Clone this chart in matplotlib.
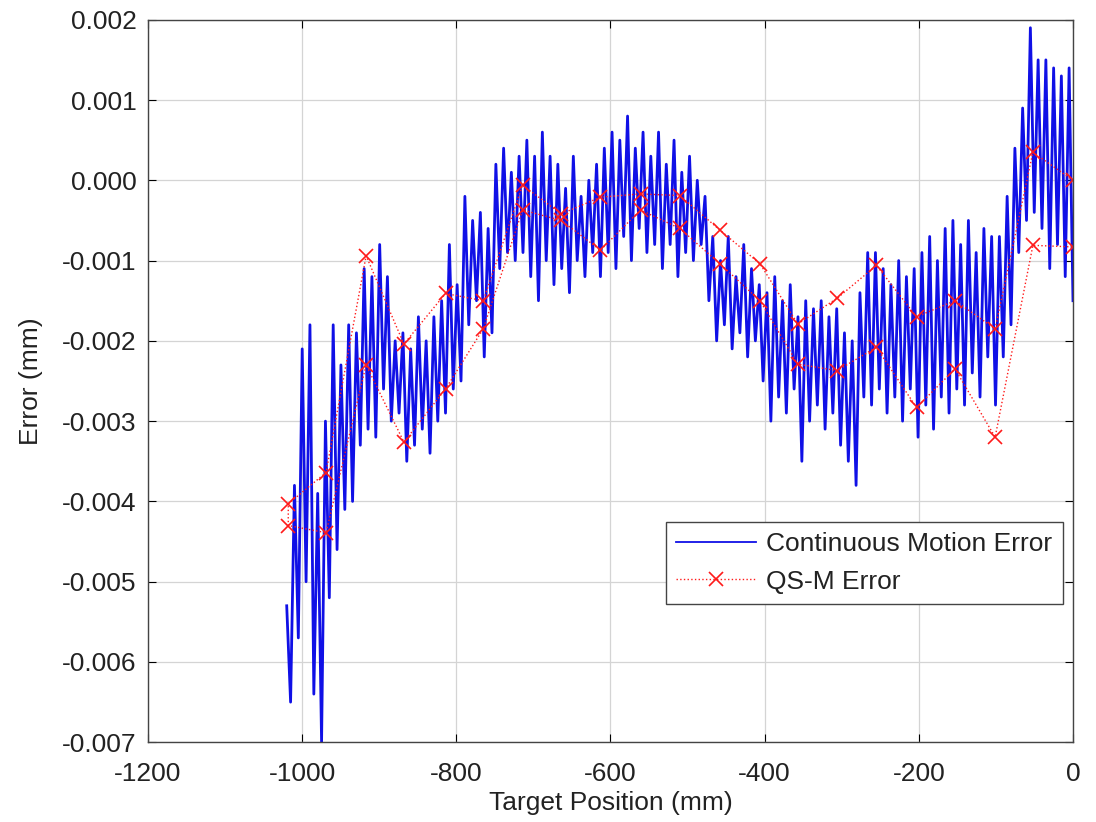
import numpy as np
import matplotlib.pyplot as plt
from matplotlib.ticker import FormatStrFormatter

plt.rcParams.update({
    'font.family': ['Liberation Sans', 'DejaVu Sans'],
    'font.size': 19,
    'axes.unicode_minus': False,
})

# Continuous motion error: one peak and one trough per ~10 mm of travel,
# from -1020 mm up to 0 mm (values in mm)
cm_peaks = [
    -0.0053, -0.0038, -0.0021, -0.0018, -0.0039, -0.0030, -0.0018, -0.0023, -0.0018, -0.0019,
    -0.0011, -0.0012, -0.0008, -0.0012, -0.0020, -0.0019, -0.0021, -0.0017, -0.0020, -0.0017,
    -0.0015, -0.0008, -0.0013, -0.0002, -0.0005, -0.0004, -0.0006, 0.0002, 0.0004, 0.0001,
    0.0003, 0.0005, 0.0003, 0.0006, 0.0003, 0.0002, -0.0001, 0.0003, -0.0002, 0.0000,
    0.0002, 0.0004, 0.0006, 0.0005, 0.0008, 0.0004, 0.0006, 0.0003, 0.0006, 0.0002,
    0.0005, 0.0001, 0.0003, 0.0000, -0.0002, -0.0007, -0.0010, -0.0007, -0.0012, -0.0008,
    -0.0011, -0.0013, -0.0014, -0.0012, -0.0015, -0.0013, -0.0017, -0.0015, -0.0016, -0.0015,
    -0.0017, -0.0016, -0.0019, -0.0020, -0.0014, -0.0009, -0.0009, -0.0011, -0.0013, -0.0010,
    -0.0012, -0.0011, -0.0009, -0.0007, -0.0010, -0.0006, -0.0005, -0.0008, -0.0005, -0.0009,
    -0.0006, -0.0007, -0.0007, -0.0002, 0.0004, 0.0009, 0.0019, 0.0015, 0.0015, 0.0014,
    0.0013, 0.0014,
]
cm_troughs = [
    -0.0065, -0.0057, -0.0050, -0.0064, -0.0070, -0.0052, -0.0046, -0.0041, -0.0040, -0.0033,
    -0.0031, -0.0032, -0.0026, -0.0030, -0.0029, -0.0035, -0.0033, -0.0031, -0.0034, -0.0030,
    -0.0029, -0.0026, -0.0025, -0.0018, -0.0015, -0.0022, -0.0019, -0.0011, -0.0009, -0.0010,
    -0.0009, -0.0012, -0.0015, -0.0010, -0.0013, -0.0011, -0.0014, -0.0010, -0.0012, -0.0009,
    -0.0012, -0.0009, -0.0011, -0.0007, -0.0010, -0.0006, -0.0009, -0.0008, -0.0011, -0.0008,
    -0.0012, -0.0009, -0.0010, -0.0008, -0.0015, -0.0020, -0.0018, -0.0021, -0.0019, -0.0022,
    -0.0020, -0.0025, -0.0030, -0.0027, -0.0029, -0.0026, -0.0035, -0.0030, -0.0028, -0.0031,
    -0.0029, -0.0033, -0.0035, -0.0038, -0.0027, -0.0028, -0.0026, -0.0029, -0.0027, -0.0030,
    -0.0026, -0.0032, -0.0028, -0.0031, -0.0027, -0.0029, -0.0026, -0.0028, -0.0024, -0.0027,
    -0.0022, -0.0028, -0.0022, -0.0018, -0.0009, -0.0005, -0.0004, -0.0006, -0.0011, -0.0008,
    -0.0012, -0.0015,
]
cm_start, cm_end = -1020, 0

# Quasi-static measurements: outbound run from 0 to -1018 mm, then the return run
qs_pos_out = [0, -52, -101, -153, -203, -255, -306, -357, -406, -458, -510,
              -561, -613, -664, -714, -765, -814, -868, -917, -969, -1018]
qs_err_out = [0.0, 0.00035, -0.00185, -0.0015, -0.0017, -0.00106, -0.00147, -0.00179,
              -0.00104, -0.00062, -0.00019, -0.00017, -0.00021, -0.00042, -0.00006,
              -0.0015, -0.00141, -0.00204, -0.00094, -0.00364, -0.00403]
qs_pos_back = [-1018, -969, -917, -868, -814, -765, -714, -664, -613, -561, -510,
               -458, -406, -357, -306, -255, -203, -153, -101, -52, 0]
qs_err_back = [-0.0043, -0.00439, -0.0023, -0.00326, -0.0026, -0.00185, -0.00037,
               -0.0005, -0.00087, -0.00037, -0.0006, -0.00104, -0.0015, -0.00229,
               -0.00237, -0.00208, -0.00283, -0.00235, -0.0032, -0.00081, -0.00083]

# interleave peaks and troughs into one trace
cm_err = np.column_stack([cm_peaks, cm_troughs]).ravel()
cm_pos = np.linspace(cm_start, cm_end, len(cm_err))

qs_pos = qs_pos_out + qs_pos_back
qs_err = qs_err_out + qs_err_back

fig = plt.figure(figsize=(10.96, 8.22), dpi=100)
ax = fig.add_axes([0.135, 0.097, 0.844, 0.879])

ax.plot(cm_pos, cm_err, color='#1010e6', lw=2.0, solid_joinstyle='round',
        label='Continuous Motion Error')
ax.plot(qs_pos, qs_err, color='#ff1a1a', ls=':', lw=1.0, marker='x',
        markersize=10, markeredgewidth=1.2, label='QS-M Error')

ax.set_xlim(-1200, 0)
ax.set_ylim(-0.007, 0.002)
ax.set_xticks(np.arange(-1200, 1, 200))
ax.set_yticks(np.arange(-0.007, 0.0021, 0.001))
ax.yaxis.set_major_formatter(FormatStrFormatter('%.3f'))

ax.grid(True, color='#d4d4d4', lw=0.9)
ax.set_axisbelow(True)
ax.tick_params(direction='in', top=True, right=True, length=6,
               labelcolor='#222222')
ax.tick_params(axis='x', pad=14)
ax.tick_params(axis='y', pad=8)
for sp in ax.spines.values():
    sp.set_color('#444444')
    sp.set_linewidth(1.0)

ax.set_xlabel('Target Position (mm)', color='#222222', labelpad=4)
ax.set_ylabel('Error (mm)', color='#222222', labelpad=14)

leg = ax.legend(loc='upper right', bbox_to_anchor=(0.989, 0.305),
                borderaxespad=0, fancybox=False, framealpha=1,
                edgecolor='#444444', handlelength=3.0, handletextpad=0.4)
leg.get_frame().set_linewidth(1.0)
leg.get_lines()[0].set_linewidth(1.3)
for t in leg.get_texts():
    t.set_color('#222222')

fig.savefig('out.png', dpi=100)
